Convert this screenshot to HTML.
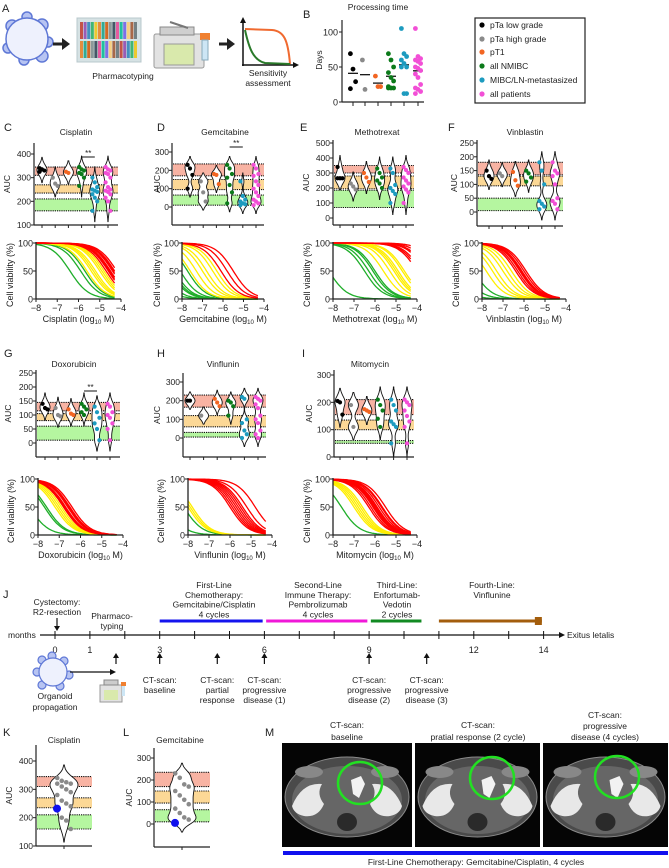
<!DOCTYPE html>
<html><head><meta charset="utf-8">
<style>
html,body{margin:0;padding:0;background:#fff;}
svg{display:block;font-family:"Liberation Sans",Arial,sans-serif;}
text{fill:#222;}
</style></head>
<body>
<svg id="fig" width="669" height="868" viewBox="0 0 669 868" xmlns="http://www.w3.org/2000/svg">
<g>
  <text x="2" y="12" font-size="11">A</text>
  <g fill="#b7c4f2" stroke="#5f78d6" stroke-width="1.5">
    <circle cx="12" cy="26" r="6"/><circle cx="42" cy="25" r="6"/><circle cx="48" cy="42" r="5"/><circle cx="42" cy="56" r="6"/>
    <circle cx="24" cy="60" r="5"/><circle cx="8" cy="48" r="5"/><circle cx="27" cy="17" r="5"/>
    <circle cx="27" cy="39" r="21" fill="#eef1fd"/>
  </g>
  <g><line x1="53" y1="44" x2="63" y2="44" stroke="#222" stroke-width="3"/><polygon points="62,38 70,44 62,50" fill="#222"/></g>
  <g>
    <rect x="77" y="18" width="64" height="44" fill="#d6e2e4" stroke="#b8c8cc"/>
    <g id="plateStripes"></g>
  </g>
  <text x="123" y="79" font-size="8.5" text-anchor="middle">Pharmacotyping</text>
  <g>
    <rect x="154" y="34" width="50" height="34" rx="2" fill="#e2e2e2" stroke="#999"/>
    <rect x="164" y="44" width="30" height="21" fill="#d9e9ac" stroke="#999"/>
    <rect x="160" y="27" width="34" height="8" fill="#cfcfcf" stroke="#888"/>
    <line x1="170" y1="22" x2="188" y2="28" stroke="#777" stroke-width="2"/>
    <rect x="200" y="33" width="10" height="7" fill="#f08030"/>
    <rect x="202" y="40" width="6" height="20" fill="#cde6f5" stroke="#8ab"/>
  </g>
  <g><line x1="219" y1="44" x2="228" y2="44" stroke="#222" stroke-width="3"/><polygon points="227,38 235,44 227,50" fill="#222"/></g>
  <g>
    <line x1="243" y1="66" x2="243" y2="22" stroke="#111" stroke-width="1.5"/><polygon points="240,23 243,17 246,23" fill="#111"/>
    <line x1="242" y1="65" x2="294" y2="65" stroke="#111" stroke-width="1.5"/><polygon points="293,62 299,65 293,68" fill="#111"/>
    <path d="M245,29 L272,30 C284,31 288,40 290,64" fill="none" stroke="#f06a30" stroke-width="2"/>
    <path d="M245,30 C249,48 253,60 265,63 L290,64" fill="none" stroke="#2a7a2a" stroke-width="2"/>
  </g>
  <text x="268" y="76" font-size="8.5" text-anchor="middle">Sensitivity</text>
  <text x="268" y="86" font-size="8.5" text-anchor="middle">assessment</text>
</g>
<g id="panelB"></g>
<g id="auc"></g>
<g id="curves"></g>
<g id="timeline"></g>
<g id="kl"></g>
<g>
  <text x="265" y="736" font-size="11">M</text>
  <text x="347" y="728" font-size="8.5" text-anchor="middle">CT-scan:</text>
  <text x="347" y="740" font-size="8.5" text-anchor="middle">baseline</text>
  <text x="478" y="728" font-size="8.5" text-anchor="middle">CT-scan:</text>
  <text x="478" y="740" font-size="8.5" text-anchor="middle">pratial response (2 cycle)</text>
  <text x="605" y="718" font-size="8.5" text-anchor="middle">CT-scan:</text>
  <text x="605" y="729" font-size="8.5" text-anchor="middle">progressive</text>
  <text x="605" y="740" font-size="8.5" text-anchor="middle">disease (4 cycles)</text>
  <g id="ctImages"></g>
  <rect x="283" y="851" width="385" height="4" fill="#1010ee"/>
  <text x="476" y="865" font-size="8.5" text-anchor="middle">First-Line Chemotherapy: Gemcitabine/Cisplatin, 4 cycles</text>
</g>
</svg>
<script>
// ---------- DATA ----------
const groupNames = ['pTa low grade','pTa high grade','pT1','all NMIBC','MIBC/LN-metastasized','all patients'];
const groupColors = ['#000000','#8a8a8a','#f26522','#0b7a1a','#1d9bbf','#f24fd6'];
const processingDays = [[69,47,29,19],[60,18],[37,22,22],[69,60,50,42,35,30,22,20,20,20],[105,69,65,60,55,50,50,12,12],[105,65,62,60,58,55,50,48,45,40,35,25,20,18,15,12]];
const processingTicks = [0,50,100];

const cisplatinAUC = [[340,335,330,325],[300,275,265],[325,320],[345,335,330,320,315,300,265],[300,280,260,250,245,240,230,215,200,160],[345,335,330,320,315,300,280,260,250,245,240,230,215,200,160]];
const gemcitabineAUC = [[230,210,175,100],[140,80,30],[180,175,125],[230,210,180,160,120,80,20],[140,60,40,30,20,15,10],[230,210,180,170,140,120,100,80,60,40,30,20,10]];
const methotrexatAUC = [[340,265,265,265],[230,210,190],[300,270,240],[330,300,270,250,230,200],[330,300,220,200,180,160,100],[340,320,300,270,250,230,210,190,170,100]];
const vinblastinAUC = [[150,130,120],[140,130],[145,115,95],[150,140,125,110],[180,150,100,40,30,20,10],[180,150,140,130,100,50,40,30,10]];
const doxorubicinAUC = [[140,125,120],[125,100,95],[120,105,100],[140,130,120,110,100],[130,110,90,70,50,10],[140,130,110,100,90,70,50,10]];
const vinflunin_AUC = [[200,200],[120],[210,190,170],[200,190,170,120],[220,210,100,80,40,20,0],[220,210,200,180,160,120,100,80,40,20,0]];
const mitomycinAUC = [[205,200,155],[190,110],[175,170,165],[210,190,170,140,110],[210,190,170,130,120,110,50],[210,200,190,170,150,130,110,50]];

const cisplatinBands = [[310,345],[235,270],[160,210]];
const gemcitabineBands = [[170,235],[95,150],[10,65]];
const methotrexatBands = [[300,350],[195,280],[70,185]];
const vinblastinBands = [[135,180],[95,130],[5,50]];
const doxorubicinBands = [[115,145],[80,105],[10,60]];
const vinflunin_Bands = [[165,230],[60,120],[5,30]];
const mitomycinBands = [[155,210],[100,135],[50,60]];

const cisplatinTicks = [100,200,300,400];
const gemcitabineTicks = [0,100,200,300];
const methotrexatTicks = [0,100,200,300,400,500];
const vinblastinTicks = [0,50,100,150,200,250];
const doxorubicinTicks = [0,50,100,150,200,250];
const vinflunin_Ticks = [0,100,200,300];
const mitomycinTicks = [0,100,200,300];

const cisplatinIC50 = {red:[-4.4,-4.5,-4.6,-4.3,-4.2,-4.5,-4.7,-4.35,-4.55], yellow:[-5.4,-5.2,-5.0,-5.6,-4.9,-5.3,-4.8], green:[-6.4,-5.9,-5.7]};
const gemcitabineIC50 = {red:[-5.8,-5.5,-6.1], yellow:[-6.5,-6.8,-7.0,-6.3,-7.3,-7.6], green:[-7.73,-8.09,-8.37,-8.6,-8.95,-9.3,-8.5]};
const methotrexatIC50 = {red:[-3.0,-3.5,-3.8,-3.6,-4.0,-3.3,-3.9], yellow:[-5.0,-4.7,-4.9,-5.3,-5.6,-4.6,-5.1], green:[-6.3,-6.1,-6.0,-6.5,-8.2]};
const vinblastinIC50 = {red:[-6.3,-6.1,-6.0,-5.9,-6.2,-6.4,-6.15], yellow:[-6.8,-7.0,-7.3,-7.5,-6.6,-7.8], green:[-8.4,-8.9,-9.5]};
const doxorubicinIC50 = {red:[-6.5,-6.6,-6.7,-6.8,-6.4,-6.55,-6.75], yellow:[-7.0,-7.1,-7.2,-6.9], green:[-7.6,-7.7,-8.4]};
const vinflunin_IC50 = {red:[-4.8,-5.2,-5.5,-5.6,-5.8,-5.9,-6.0,-5.4,-5.7], yellow:[-7.8,-7.9,-8.0], green:[-8.2,-9.0]};
const mitomycinIC50 = {red:[-5.5,-5.7,-5.8,-5.9,-6.0,-6.1,-6.2,-6.3,-5.65,-5.95,-6.05], yellow:[-6.6,-6.7,-6.8,-6.9,-7.0], green:[-7.6]};

const patientCisplatinAUC = [340,330,325,320,320,310,300,290,280,260,250,240,235,200,190,160];
const patientCisplatinOwn = 232;
const patientGemcitabineAUC = [230,210,180,170,150,130,110,90,70,50,30,20,10];
const patientGemcitabineOwn = 5;

const timelineTickMonths = [0,1,2,3,4,5,6,7,8,9,10,11,12,13,14];
const timelineLabelMonths = [0,1,3,6,9,12,14];
const therapyStarts = [3,6.05,9.05,11];
const therapyEnds = [5.95,8.95,10.5,13.95];
const ctScanMonths = [3,4.65,6,9,10.65];

// ---------- HELPERS ----------
const NS='http://www.w3.org/2000/svg';
function mk(tag, attrs, parent){const e=document.createElementNS(NS,tag);for(const k in attrs)e.setAttribute(k,attrs[k]);parent.appendChild(e);return e;}
function tx(str,x,y,size,anchor,parent,extra){const e=mk('text',Object.assign({x:x,y:y,'font-size':size,'text-anchor':anchor||'start'},extra||{}),parent);e.textContent=str;return e;}
const BAND_COLORS=['#f8b3a3','#fcd896','#b5f6a0'];

(function(){const g=document.getElementById('plateStripes');const cols=['#c0392b','#8e44ad','#2980b9','#27ae60','#f1c40f','#e67e22','#16a085','#d35400','#7f8c8d','#2c3e50','#e84393','#00b894','#6c5ce7','#fdcb6e','#a0522d','#636e72'];
for(let r=0;r<2;r++)for(let i=0;i<16;i++){const s=mk('rect',{x:80+i*3.6,y:22+r*19,width:3,height:17,fill:cols[(i+r*5)%16],opacity:0.85},g);}})();

// ---------- PANEL B ----------
(function(){
  const g=document.getElementById('panelB');
  const yB=v=>102-(v/100)*70; const ax=342, colX=[353,365,378,391,404,418];
  const lab=tx('B',303,18,11,'start',g);
  const t=tx('Processing time',378,10,8.5,'middle',g);
  const axl=mk('line',{x1:ax,y1:20,x2:ax,y2:102,stroke:'#222','stroke-width':1.2},g);
  const bx=mk('line',{x1:ax,y1:102,x2:424,y2:102,stroke:'#222','stroke-width':1.2},g);
  processingTicks.forEach(v=>{mk('line',{x1:ax-3,y1:yB(v),x2:ax,y2:yB(v),stroke:'#222'},g);const l=tx(String(v),ax-4,yB(v)+3.5,9,'end',g);});
  const yl=tx('Days',322,60,8.5,'middle',g,{transform:'rotate(-90 322 60)'});
  processingDays.forEach((arr,gi)=>{
    mk('line',{x1:colX[gi],y1:102,x2:colX[gi],y2:106,stroke:'#222'},g);
    const mean=arr.reduce((a,b)=>a+b,0)/arr.length;
    const ml=mk('line',{x1:colX[gi]-5,y1:yB(mean),x2:colX[gi]+5,y2:yB(mean),stroke:'#000','stroke-width':1.2},g);
    
    arr.forEach((v,i)=>{const c=mk('circle',{cx:colX[gi]+((i%3)-1)*2.6,cy:yB(v),r:2.4,fill:groupColors[gi]},g);});
  });
  const box=mk('rect',{x:475,y:18,width:110,height:85,fill:'none',stroke:'#222','stroke-width':1.2},g);
  const ly=[28,42,55,69,83,97];
  groupNames.forEach((n,i)=>{const d=mk('circle',{cx:482,cy:ly[i]-3,r:2.6,fill:groupColors[i]},g);
    const l=tx(n,490,ly[i],8.5,'start',g);});
})();

function violin(g,vals,cx,ymap,bw,halfW){
  const mn=Math.min(...vals),mx=Math.max(...vals);const lo=mn-2.2*bw,hi=mx+2.2*bw;const N=40;const pts=[];let maxd=0;
  for(let i=0;i<=N;i++){const v=lo+(hi-lo)*i/N;let d=0;vals.forEach(x=>{d+=Math.exp(-0.5*((v-x)/bw)**2);});pts.push([v,d]);if(d>maxd)maxd=d;}
  let L='',R='';pts.forEach((p,i)=>{const w=p[1]/maxd*halfW;L+=(i?'L':'M')+(cx-w).toFixed(1)+','+ymap(p[0]).toFixed(1);});
  for(let i=pts.length-1;i>=0;i--){const w=pts[i][1]/maxd*halfW;R+='L'+(cx+w).toFixed(1)+','+ymap(pts[i][0]).toFixed(1);}
  return mk('path',{d:L+R+'Z',fill:'#fff',stroke:'#111','stroke-width':0.9},g);
}

const aucPanels=[
 {key:'cisplatin',letter:'C',lx:4,ly:131,title:'Cisplatin',tcx:76,ty:135,data:cisplatinAUC,bands:cisplatinBands,ticks:cisplatinTicks,r1:[100,225],r2:[400,154],top:143,bottom:225,axX:34,colX0:42,dx:13.2,end:118,auX:10,sig:157},
 {key:'gemcitabine',letter:'D',lx:157,ly:131,title:'Gemcitabine',tcx:225,ty:135,data:gemcitabineAUC,bands:gemcitabineBands,ticks:gemcitabineTicks,r1:[0,207],r2:[300,152],top:143,bottom:225,axX:172,colX0:190,dx:13.2,end:264,auX:160,sig:147},
 {key:'methotrexat',letter:'E',lx:300,ly:131,title:'Methotrexat',tcx:377,ty:135,data:methotrexatAUC,bands:methotrexatBands,ticks:methotrexatTicks,r1:[0,218],r2:[500,143],top:140,bottom:225,axX:333,colX0:340,dx:13.2,end:414,auX:309},
 {key:'vinblastin',letter:'F',lx:448,ly:131,title:'Vinblastin',tcx:525,ty:135,data:vinblastinAUC,bands:vinblastinBands,ticks:vinblastinTicks,r1:[0,212],r2:[250,143],top:140,bottom:226,axX:477,colX0:489,dx:13.2,end:563,auX:457},
 {key:'doxorubicin',letter:'G',lx:4,ly:357,title:'Doxorubicin',tcx:74,ty:367,data:doxorubicinAUC,bands:doxorubicinBands,ticks:doxorubicinTicks,r1:[0,443],r2:[250,373],top:370,bottom:457,axX:36,colX0:45,dx:13,end:120,auX:11,sig:391},
 {key:'vinflunin',letter:'H',lx:157,ly:357,title:'Vinflunin',tcx:223,ty:367,data:vinflunin_AUC,bands:vinflunin_Bands,ticks:vinflunin_Ticks,r1:[0,438],r2:[300,382],top:373,bottom:457,axX:183,colX0:190,dx:13.6,end:266,auX:160},
 {key:'mitomycin',letter:'I',lx:302,ly:357,title:'Mitomycin',tcx:370,ty:367,data:mitomycinAUC,bands:mitomycinBands,ticks:mitomycinTicks,r1:[0,457],r2:[300,375],top:370,bottom:457,axX:334,colX0:340,dx:13.4,end:414,auX:312}
];
function drawAUCAxes(g,p,ymap,cols,bandX1){
  p.bands.forEach((b,i)=>{const r=mk('rect',{x:p.axX+1,y:ymap(b[1]),width:bandX1-p.axX-1,height:ymap(b[0])-ymap(b[1]),fill:BAND_COLORS[i]},g);
    b.forEach(v=>{const l=mk('line',{x1:p.axX+1,y1:ymap(v),x2:bandX1,y2:ymap(v),stroke:'#111','stroke-width':1.1,'stroke-dasharray':'1.2,1'},g);});});
  const ya=mk('line',{x1:p.axX,y1:p.top,x2:p.axX,y2:p.bottom,stroke:'#222','stroke-width':1.2},g);
  const xa=mk('line',{x1:p.axX,y1:p.bottom,x2:p.end,y2:p.bottom,stroke:'#222','stroke-width':1.2},g);
  p.ticks.forEach(v=>{mk('line',{x1:p.axX-3,y1:ymap(v),x2:p.axX,y2:ymap(v),stroke:'#222'},g);const l=tx(String(v),p.axX-3,ymap(v)+3,8.5,'end',g);});
  cols.forEach(x=>mk('line',{x1:x,y1:p.bottom,x2:x,y2:p.bottom+3,stroke:'#222'},g));
  const cy=(p.top+p.bottom)/2;const al=tx('AUC',p.auX,cy,8.5,'middle',g,{transform:'rotate(-90 '+p.auX+' '+cy+')'});
}
(function(){
  const root=document.getElementById('auc');
  aucPanels.forEach(p=>{
    const g=mk('g',{},root);
    const ymap=v=>p.r1[1]+(v-p.r1[0])*(p.r2[1]-p.r1[1])/(p.r2[0]-p.r1[0]);
    const lab=tx(p.letter,p.lx,p.ly,11,'start',g);
    const tt=tx(p.title,p.tcx,p.ty,8.5,'middle',g);
    const cols=p.data.map((_,i)=>p.colX0+i*p.dx);
    drawAUCAxes(g,p,ymap,cols,p.end);
    const span=Math.abs(p.r2[0]-p.r1[0]);
    p.data.forEach((vals,gi)=>{
      const v=violin(g,vals,cols[gi],ymap,span*0.07,5);
      vals.forEach((val,i)=>{const c=mk('circle',{cx:cols[gi]+((i%3)-1)*2.4,cy:ymap(val),r:2.1,fill:groupColors[gi]},g);});
    });
    if(p.sig){const sg=mk('g',{},g);
      mk('line',{x1:cols[3],y1:p.sig,x2:cols[4],y2:p.sig,stroke:'#111','stroke-width':1},sg);tx('**',(cols[3]+cols[4])/2,p.sig-1,8,'middle',sg);}
  });
})();

const curvePanels=[
 {key:'cisplatin',label:'Cisplatin',ic:cisplatinIC50,x0:36,x1:121,yT:243,yB:299,vlX:13},
 {key:'gemcitabine',label:'Gemcitabine',ic:gemcitabineIC50,x0:182,x1:264,yT:243,yB:299,vlX:160},
 {key:'methotrexat',label:'Methotrexat',ic:methotrexatIC50,x0:333,x1:417,yT:243,yB:299,vlX:310},
 {key:'vinblastin',label:'Vinblastin',ic:vinblastinIC50,x0:482,x1:566,yT:243,yB:299,vlX:459},
 {key:'doxorubicin',label:'Doxorubicin',ic:doxorubicinIC50,x0:38,x1:123,yT:479,yB:535,vlX:14},
 {key:'vinflunin',label:'Vinflunin',ic:vinflunin_IC50,x0:188,x1:272,yT:479,yB:535,vlX:164},
 {key:'mitomycin',label:'Mitomycin',ic:mitomycinIC50,x0:333,x1:417,yT:479,yB:535,vlX:310}
];
const logTicks=[-8,-7,-6,-5,-4];
const viabTicks=[0,50,100];
const curveColors={red:'#ff0000',yellow:'#ffee00',green:'#1fae2a'};
(function(){
  const root=document.getElementById('curves');
  curvePanels.forEach(p=>{
    const g=mk('g',{},root);
    const xs=x=>p.x0+(x+8)/4*(p.x1-p.x0);const ys=v=>p.yB-(v/100)*(p.yB-p.yT);
    ['green','yellow','red'].forEach(cls=>{
      p.ic[cls].forEach(c=>{let d='';for(let i=0;i<=60;i++){const x=-8+3.7*i/60;const v=100/(1+Math.pow(10,(x-c)));d+=(i?'L':'M')+xs(x).toFixed(1)+','+ys(v).toFixed(1);}
        const path=mk('path',{d:d,fill:'none',stroke:curveColors[cls],'stroke-width':1.3},g);});
    });
    const ya=mk('line',{x1:p.x0,y1:p.yT-1,x2:p.x0,y2:p.yB,stroke:'#222','stroke-width':1.3},g);
    const xa=mk('line',{x1:p.x0,y1:p.yB,x2:p.x1,y2:p.yB,stroke:'#222','stroke-width':1.3},g);
    viabTicks.forEach(v=>{mk('line',{x1:p.x0-3,y1:ys(v),x2:p.x0,y2:ys(v),stroke:'#222'},g);const l=tx(String(v),p.x0-3,ys(v)+3.5,9,'end',g);});
    logTicks.forEach(v=>{mk('line',{x1:xs(v),y1:p.yB,x2:xs(v),y2:p.yB+3,stroke:'#222'},g);const l=tx(String(v).replace('-','\u2212'),xs(v),p.yB+12,9,'middle',g);});
    const xt=mk('text',{x:(p.x0+p.x1)/2,y:p.yB+23,'font-size':9,'text-anchor':'middle'},g);
    xt.textContent=p.label+' (log';const sub=mk('tspan',{'font-size':6,dy:2},xt);sub.textContent='10';const rest=mk('tspan',{dy:-2},xt);rest.textContent=' M)';
    const cy=(p.yT+p.yB)/2+4;const vl=tx('Cell viability (%)',p.vlX,cy,9,'middle',g,{transform:'rotate(-90 '+p.vlX+' '+cy+')'});
  });
})();

// ---------- TIMELINE ----------
(function(){
  const g=document.getElementById('timeline');const mx=m=>55+m*34.9;const Y=635;
  const jl=tx('J',3,598,11,'start',g);
  const mt=tx('months',8,638,8.5,'start',g);
  const ax=mk('line',{x1:40,y1:Y,x2:560,y2:Y,stroke:'#111','stroke-width':1.2},g);
  mk('polygon',{points:'559,632 565,635 559,638',fill:'#111'},g);
  const ex=tx('Exitus letalis',567,638,8.5,'start',g);
  timelineTickMonths.forEach(m=>{const t=mk('line',{x1:mx(m),y1:Y-4,x2:mx(m),y2:Y+4,stroke:'#111'},g);});
  timelineLabelMonths.forEach(m=>{const l=tx(String(m),mx(m),653,9,'middle',g);});
  const barCols=['#1414ee','#f018d8','#118a22','#a35d0c'];
  const barNames=['first-line-bar','second-line-bar','third-line-bar','fourth-line-bar'];
  therapyStarts.forEach((s,i)=>{const b=mk('line',{x1:mx(s),y1:621,x2:mx(therapyEnds[i]),y2:621,stroke:barCols[i],'stroke-width':3},g);});
  mk('rect',{x:mx(therapyEnds[3])-7,y:617,width:7,height:8,fill:barCols[3]},g);
  const labels=[[214,['First-Line','Chemotherapy:','Gemcitabine/Cisplatin','4 cycles']],[318,['Second-Line','Immune Therapy:','Pembrolizumab','4 cycles']],[397,['Third-Line:','Enfortumab-','Vedotin','2 cycles']],[492,['Fourth-Line:','Vinflunine']]];
  labels.forEach(([x,lines])=>{lines.forEach((s,j)=>{const l=tx(s,x,588+j*9.8,8.5,'middle',g);});});
  [['Cystectomy:',57,605],['R2-resection',57,615],['Pharmaco-',112,619],['typing',112,629]].forEach(a=>{const l=tx(a[0],a[1],a[2],8.5,'middle',g);});
  mk('line',{x1:57,y1:618,x2:57,y2:627,stroke:'#111','stroke-width':1.2},g);mk('polygon',{points:'54,626 57,631 60,626',fill:'#111'},g);
  function up(x){mk('line',{x1:x,y1:657,x2:x,y2:664,stroke:'#111','stroke-width':1.2},g);mk('polygon',{points:(x-3)+',658 '+x+',653 '+(x+3)+',658',fill:'#111'},g);}
  up(116);
  const ctText=[['CT-scan:','baseline'],['CT-scan:','partial','response'],['CT-scan:','progressive','disease (1)'],['CT-scan:','progressive','disease (2)'],['CT-scan:','progressive','disease (3)']];
  ctScanMonths.forEach((m,i)=>{up(mx(m));ctText[i].forEach((s,j)=>{const l=tx(s,mx(m),683+j*10,8.5,'middle',g);});});
  const og=mk('g',{fill:'#b7c4f2',stroke:'#5f78d6','stroke-width':1.2},g);
  [[42,660],[64,661],[69,675],[60,686],[42,685],[37,672],[52,656]].forEach(c=>mk('circle',{cx:c[0],cy:c[1],r:4},og));mk('circle',{cx:53,cy:672,r:14,fill:'#eef1fd'},og);
  mk('line',{x1:70,y1:672,x2:111,y2:672,stroke:'#111','stroke-width':1.2},g);mk('polygon',{points:'110,669 116,672 110,675',fill:'#111'},g);
  const mc=mk('g',{},g);
  mk('rect',{x:100,y:685,width:22,height:17,fill:'#e2e2e2',stroke:'#999'},mc);mk('rect',{x:104,y:690,width:14,height:10,fill:'#d9e9ac'},mc);mk('rect',{x:104,y:680,width:14,height:5,fill:'#ccc',stroke:'#888'},mc);mk('rect',{x:121,y:682,width:5,height:4,fill:'#f08030'},mc);mk('rect',{x:122,y:686,width:3,height:10,fill:'#cde6f5'},mc);
  [['Organoid',55,699],['propagation',55,710]].forEach(a=>{const l=tx(a[0],a[1],a[2],8.5,'middle',g);});
})();

// ---------- K / L ----------
(function(){
  const root=document.getElementById('kl');
  const specs=[
   {key:'k-cisplatin',letter:'K',lx:3,title:'Cisplatin',tcx:64,data:patientCisplatinAUC,own:patientCisplatinOwn,bands:cisplatinBands,ticks:cisplatinTicks,r1:[100,846],r2:[400,761],top:745,bottom:846,axX:36,cx:64,end:92,auX:12},
   {key:'l-gemcitabine',letter:'L',lx:123,title:'Gemcitabine',tcx:180,data:patientGemcitabineAUC,own:patientGemcitabineOwn,bands:gemcitabineBands,ticks:gemcitabineTicks,r1:[0,824],r2:[300,758],top:748,bottom:847,axX:154,cx:182,end:210,auX:132}
  ];
  specs.forEach(p=>{
    const g=mk('g',{},root);
    const ymap=v=>p.r1[1]+(v-p.r1[0])*(p.r2[1]-p.r1[1])/(p.r2[0]-p.r1[0]);
    const lab=tx(p.letter,p.lx,736,11,'start',g);
    const t=tx(p.title,p.tcx,743,8.5,'middle',g);
    drawAUCAxes(g,p,ymap,[p.cx],p.end);
    const span=Math.abs(p.r2[0]-p.r1[0]);
    const v=violin(g,p.data,p.cx,ymap,span*0.07,14);
    p.data.forEach((val,i)=>{const c=mk('circle',{cx:p.cx+((i%4)-1.5)*4.5,cy:ymap(val),r:2.3,fill:'#8a8a8a'},g);});
    const o=mk('circle',{cx:p.cx-7,cy:ymap(p.own),r:4,fill:'#1010ee'},g);
  });
})();

// ---------- CT IMAGES ----------
(function(){
  const g=document.getElementById('ctImages');
  const imgs=[{x:282,w:130,gx:360,gy:783},{x:415,w:125,gx:492,gy:778},{x:543,w:125,gx:617,gy:777}];
  imgs.forEach((m,i)=>{
    const ig=mk('g',{},g);
    mk('rect',{x:m.x,y:743,width:m.w,height:104,fill:'#050505'},ig);
    const cx=m.x+m.w/2;
    mk('ellipse',{cx:cx,cy:797,rx:m.w/2-3,ry:40,fill:'#4a4a4a',stroke:'#8a8a8a','stroke-width':1},ig);
    mk('ellipse',{cx:cx,cy:800,rx:m.w/2-10,ry:34,fill:'#666'},ig);
    mk('path',{d:'M'+(cx-55)+',806 q10,-24 30,-22 q-6,10 2,20 q-6,14 -20,12 q-10,-2 -12,-10Z',fill:'#e8e8e8'},ig);
    mk('path',{d:'M'+(cx+55)+',806 q-10,-24 -30,-22 q6,10 -2,20 q6,14 20,12 q10,-2 12,-10Z',fill:'#e8e8e8'},ig);
    mk('path',{d:'M'+(cx+4)+',780 l10,-4 l4,8 l-6,14 l-6,-4 Z',fill:'#f2f2f2'},ig);
    mk('ellipse',{cx:cx,cy:822,rx:10,ry:9,fill:'#2a2a2a'},ig);
    mk('ellipse',{cx:cx-38,cy:772,rx:14,ry:6,fill:'#888'},ig);mk('ellipse',{cx:cx+38,cy:772,rx:14,ry:6,fill:'#888'},ig);
    const gc=mk('ellipse',{cx:m.gx,cy:m.gy,rx:22,ry:21,fill:'none',stroke:'#22e022','stroke-width':2.5},ig);
  });
})();
</script>
</body></html>
